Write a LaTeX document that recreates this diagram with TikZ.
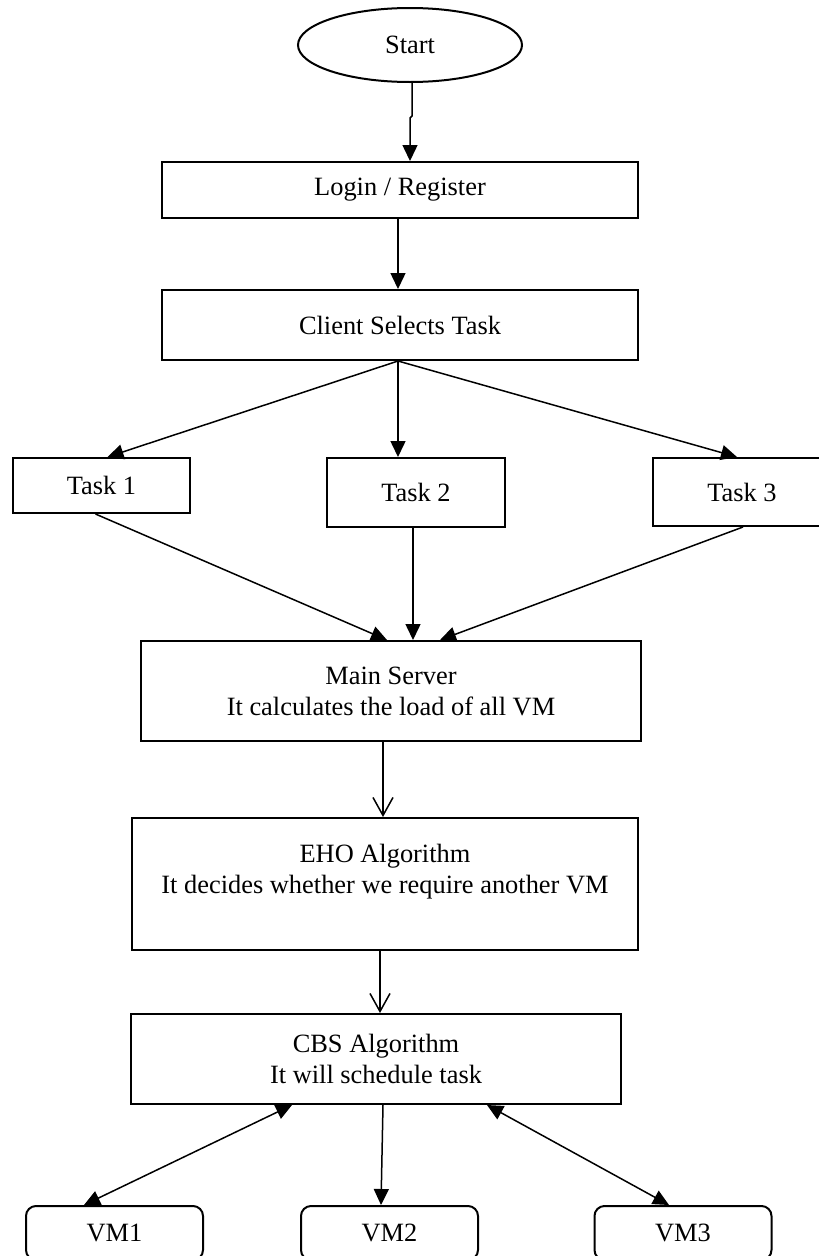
\documentclass[tikz,border=0pt]{standalone}
\usepackage{fontspec}
\setmainfont{Liberation Serif}
\usetikzlibrary{arrows.meta,shapes.geometric}
\begin{document}
\begin{tikzpicture}[x=1pt,y=-1pt,
  box/.style={draw,line width=2pt,rectangle,inner sep=0pt,align=center,font=\fontsize{26.4}{31}\selectfont},
  vmbox/.style={box,rounded corners=10pt,minimum width=177pt,minimum height=54pt},
  conn/.style={line width=1.5pt,-{Triangle[length=16pt,width=15pt]}},
  both/.style={line width=1.5pt,{Triangle[length=16pt,width=15pt]}-{Triangle[length=16pt,width=15pt]}},
  openarr/.style={line width=1.5pt,-{Straight Barb[length=18pt,width=20pt,line width=1.5pt]}}]
\clip (0,0) rectangle (819,1256);
\fill[white] (0,0) rectangle (819,1256);

\node[box,ellipse,minimum width=224pt,minimum height=74pt] (start) at (410,45) {Start};
\node[box,minimum width=476pt,minimum height=56pt] (login) at (400,190) {Login / Register};
\node[box,minimum width=476pt,minimum height=70pt] (client) at (400,325) {Client Selects Task};
\node[box,minimum width=177pt,minimum height=55pt] (task1) at (101.5,485.5) {Task 1};
\node[box,minimum width=178pt,minimum height=69pt] (task2) at (416,492.5) {Task 2};
\node[box,minimum width=178pt,minimum height=68pt] (task3) at (742,492) {Task 3};
\node[box,minimum width=500pt,minimum height=100pt] (main) at (391,691) {Main Server\\It calculates the load of all VM};
\node[box,minimum width=506pt,minimum height=132pt] (eho) at (385,884) {EHO Algorithm\\It decides whether we require another VM\\~};
\node[box,minimum width=490pt,minimum height=90pt] (cbs) at (376,1059) {CBS Algorithm\\It will schedule task};
\node[vmbox] (vm1) at (114.5,1233) {VM1};
\node[vmbox] (vm2) at (389.5,1233) {VM2};
\node[vmbox] (vm3) at (683,1233) {VM3};

\draw[conn] ([xshift=2pt]start.south) -- ++(0,33) -- ++(-2,2) -- (start.south |- login.north);
\draw[conn] ([xshift=-2pt]login.south) -- ([xshift=-2pt]client.north);
\draw[conn] ([xshift=-2pt]client.south) -- ([xshift=6pt]task1.north);
\draw[conn] ([xshift=-2pt]client.south) -- ([xshift=-18pt]task2.north);
\draw[conn] ([xshift=-2pt]client.south) -- ([xshift=-5pt]task3.north);
\draw[conn] ([xshift=-6pt]task1.south) -- ([xshift=-4pt]main.north);
\draw[conn] ([xshift=-3pt]task2.south) -- ([xshift=22pt]main.north);
\draw[conn] ([xshift=1pt]task3.south) -- ([xshift=49pt]main.north);
\draw[openarr] ([xshift=-8pt]main.south) -- ([xshift=-2pt]eho.north);
\draw[openarr] ([xshift=-5pt]eho.south) -- ([xshift=4pt]cbs.north);
\draw[both] ([xshift=-84pt]cbs.south) -- ([xshift=-30.5pt]vm1.north);
\draw[conn] ([xshift=7pt]cbs.south) -- ([xshift=-8.5pt]vm2.north);
\draw[both] ([xshift=111pt]cbs.south) -- ([xshift=-14pt]vm3.north);
\end{tikzpicture}
\end{document}
